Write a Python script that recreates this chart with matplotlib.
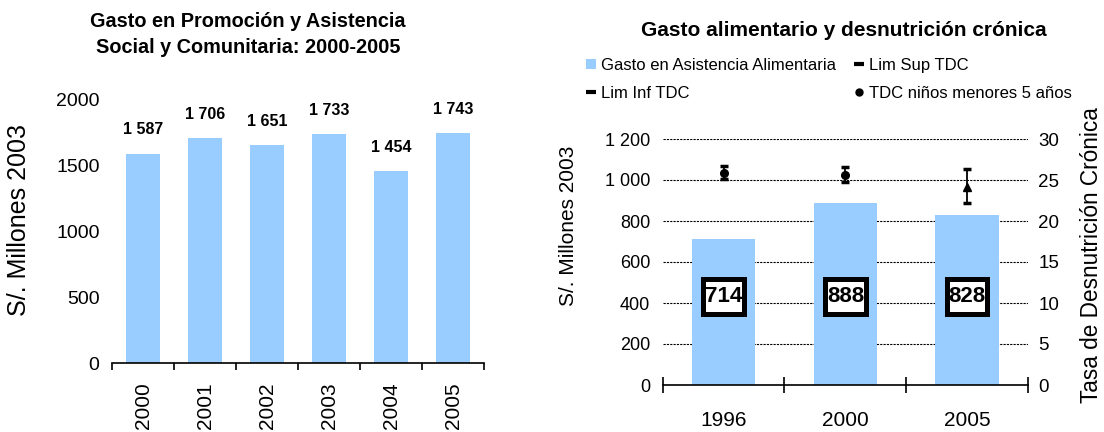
import numpy as np
import matplotlib.pyplot as plt
from matplotlib.lines import Line2D
from matplotlib.patches import Patch
from matplotlib.path import Path

plt.rcParams['font.family'] = ['Liberation Sans', 'DejaVu Sans']

# gasto en promocion y asistencia social, S/. millones 2003
years = ['2000', '2001', '2002', '2003', '2004', '2005']
gasto_social = [1587, 1706, 1651, 1733, 1454, 1743]

# gasto alimentario y tasa de desnutricion cronica (TDC)
periodos = ['1996', '2000', '2005']
gasto_alim = [714, 888, 828]
tdc = [25.9, 25.6, 24.1]
tdc_sup = [26.7, 26.6, 26.4]
tdc_inf = [25.1, 24.7, 22.2]

azul = '#99CCFF'
W, H = 1104, 432


def miles(v):
    return '{:,}'.format(int(v)).replace(',', ' ')


def caja(x0, y0, width, height, mutation_size):
    # recuadro con poco margen a los lados y mas arriba/abajo
    px = 0.08 * mutation_size
    py = 0.32 * mutation_size
    x0, x1 = x0 - px, x0 + width + px
    y0, y1 = y0 - py, y0 + height + py
    return Path([(x0, y0), (x1, y0), (x1, y1), (x0, y1), (x0, y0)], closed=True)


fig = plt.figure(figsize=(W / 100, H / 100), dpi=100)

# ---- grafico izquierdo ----
ax1 = fig.add_axes([112 / W, 69 / H, 372 / W, 264 / H])
x1 = np.arange(len(years))
ax1.bar(x1, gasto_social, width=0.56, color=azul)
for xi, v in zip(x1, gasto_social):
    ax1.annotate(miles(v), (xi, v), xytext=(0, 17), textcoords='offset points',
                 ha='center', va='center', fontsize=11.5, fontweight='bold')
ax1.set_xlim(-0.5, len(years) - 0.5)
ax1.set_ylim(0, 2000)
ax1.set_yticks([0, 500, 1000, 1500, 2000])
ax1.tick_params(axis='y', length=0, pad=9, labelsize=14)
ax1.set_xticks(np.arange(len(years) + 1) - 0.5)
ax1.set_xticklabels([])
ax1.set_xticks(x1, minor=True)
ax1.set_xticklabels(years, minor=True, rotation=90)
ax1.tick_params(axis='x', which='major', direction='out', length=5, width=1.2)
ax1.tick_params(axis='x', which='minor', length=0, pad=14, labelsize=15)
for s in ['top', 'right', 'left']:
    ax1.spines[s].set_visible(False)
ax1.spines['bottom'].set_linewidth(1.2)

fig.text(248 / W, 1 - 34.5 / H,
         'Gasto en Promoción y Asistencia\nSocial y Comunitaria: 2000-2005',
         ha='center', va='center', fontsize=14.3, fontweight='bold', linespacing=1.45)
fig.text(19 / W, 1 - 220.5 / H, 'S/. Millones 2003', rotation=90,
         ha='center', va='center', fontsize=18)

# ---- grafico derecho ----
ax2 = fig.add_axes([662.7 / W, 47 / H, 365.3 / W, 246 / H])
x2 = np.arange(len(periodos))
ax2.set_axisbelow(True)
ax2.yaxis.grid(True, linestyle=(0, (2, 1)), color='black', linewidth=0.8)
ax2.bar(x2, gasto_alim, width=0.52, color=azul, zorder=2)
for xi, v in zip(x2, gasto_alim):
    ax2.text(xi, 430, str(v), ha='center', va='center', fontsize=16,
             fontweight='bold', zorder=4,
             bbox=dict(boxstyle=caja, fc='white', ec='black', lw=3.6))
ax2.set_xlim(-0.5, len(periodos) - 0.5)
ax2.set_ylim(0, 1200)
ax2.set_yticks(range(0, 1201, 200))
ax2.set_yticklabels([miles(v) for v in range(0, 1201, 200)])
ax2.tick_params(axis='y', length=0, pad=9, labelsize=13)
ax2.set_xticks(np.arange(len(periodos) + 1) - 0.5)
ax2.set_xticklabels([])
ax2.set_xticks(x2, minor=True)
ax2.set_xticklabels(periodos, minor=True)
ax2.tick_params(axis='x', which='major', direction='inout', length=11, width=1.2)
ax2.tick_params(axis='x', which='minor', length=0, pad=19, labelsize=15)
for s in ['top', 'right', 'left']:
    ax2.spines[s].set_visible(False)
ax2.spines['bottom'].set_linewidth(1.2)

# TDC en el eje secundario
ax3 = ax2.twinx()
ax3.set_ylim(0, 30)
ax3.set_yticks(range(0, 31, 5))
ax3.tick_params(axis='y', length=0, pad=7.5, labelsize=13.5)
for s in ['top', 'right', 'left', 'bottom']:
    ax3.spines[s].set_visible(False)
ax3.vlines(x2, tdc_inf, tdc_sup, color='black', linewidth=1.3)
ax3.plot(x2, tdc_sup, ls='none', marker='_', ms=6, mew=2.5, color='black')
ax3.plot(x2, tdc_inf, ls='none', marker='_', ms=6, mew=2.5, color='black')
for xi, v, m in zip(x2, tdc, ['o', 'o', '^']):
    ax3.plot(xi, v, ls='none', marker=m, ms=5.5, color='black')

fig.text(844 / W, 1 - 30 / H, 'Gasto alimentario y desnutrición crónica',
         ha='center', va='center', fontsize=15, fontweight='bold')
fig.text(569 / W, 1 - 225.5 / H, 'S/. Millones 2003', rotation=90,
         ha='center', va='center', fontsize=15)
fig.text(1092 / W, 1 - 255.5 / H, 'Tasa de Desnutrición Crónica', rotation=90,
         ha='center', va='center', fontsize=16.3)

handles = [
    Patch(facecolor=azul, label='Gasto en Asistencia Alimentaria'),
    Line2D([], [], ls='none', marker='_', ms=7, mew=3, color='black', label='Lim Inf TDC'),
    Line2D([], [], ls='none', marker='_', ms=7, mew=3, color='black', label='Lim Sup TDC'),
    Line2D([], [], ls='none', marker='o', ms=5, color='black', label='TDC niños menores 5 años'),
]
fig.legend(handles=handles, loc='upper left', bbox_to_anchor=(586 / W, 1 - 58 / H),
           ncol=2, frameon=False, fontsize=12, borderpad=0, borderaxespad=0,
           handlelength=0.6, handleheight=0.6, handletextpad=0.3,
           labelspacing=0.75, columnspacing=1.1)

fig.savefig('out.png', dpi=100)
